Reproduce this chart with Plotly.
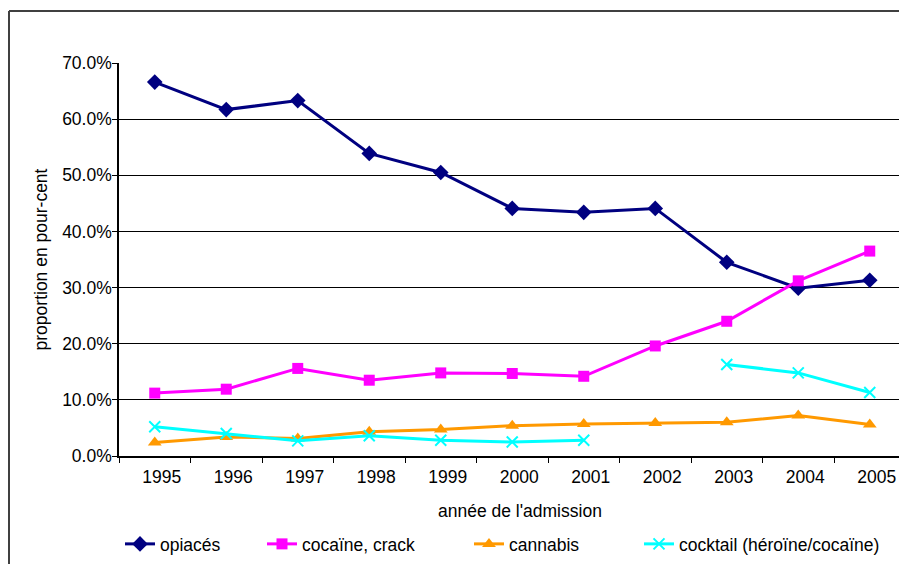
import plotly.graph_objects as go

years = ["1995", "1996", "1997", "1998", "1999", "2000", "2001", "2002", "2003", "2004", "2005"]
opiaces = [0.666, 0.617, 0.633, 0.539, 0.505, 0.441, 0.434, 0.441, 0.345, 0.299, 0.313]
cocaine = [0.112, 0.119, 0.156, 0.135, 0.148, 0.147, 0.142, 0.196, 0.240, 0.312, 0.365]
cannabis = [0.024, 0.034, 0.031, 0.043, 0.047, 0.054, 0.057, 0.059, 0.060, 0.072, 0.056]
cocktail = [0.052, 0.040, 0.027, 0.036, 0.028, 0.025, 0.028, None, 0.163, 0.148, 0.113]
y_ticks = [0, 0.1, 0.2, 0.3, 0.4, 0.5, 0.6, 0.7]

FONT = "Liberation Sans, Arial, sans-serif"
W, H = 899, 564
L, T = 119, 63
BOTTOM = 456
R = 0
B = H - BOTTOM
PW = W - L - R
PH = BOTTOM - T
CAT_W = 71.5  # the original plot area runs past the right edge of the picture

def px_x(p):
    return (p - L) / PW

def px_y(p):
    return (BOTTOM - p) / PH

series = [
    ("opiacés", opiaces, "#000080", "diamond", 12, "legend", 126),
    ("cocaïne, crack", cocaine, "#FF00FF", "square", 11, "legend2", 268),
    ("cannabis", cannabis, "#FF9900", "triangle-up", 12, "legend3", 475),
    ("cocktail (héroïne/cocaïne)", cocktail, "#00FFFF", "x-thin-open", 11, "legend4", 645),
]

fig = go.Figure()
for name, vals, color, sym, size, leg, _ in series:
    marker = dict(symbol=sym, size=size, color=color)
    if sym == "x-thin-open":
        marker["line"] = dict(color=color, width=2)
    fig.add_trace(go.Scatter(
        x=years, y=vals, name=name, mode="lines+markers",
        line=dict(color=color, width=3), marker=marker,
        connectgaps=False, legend=leg,
    ))

layout_legends = {}
for name, vals, color, sym, size, leg, icon_x in series:
    layout_legends[leg] = dict(
        x=px_x(icon_x - 6), xanchor="left", y=px_y(544), yanchor="middle",
        orientation="h", font=dict(family=FONT, size=17.5, color="black"),
        bgcolor="rgba(0,0,0,0)", borderwidth=0, itemwidth=30,
    )

fig.update_layout(
    width=W, height=H,
    margin=dict(l=L, r=R, t=T, b=B, autoexpand=False),
    paper_bgcolor="white", plot_bgcolor="white",
    font=dict(family=FONT, size=17.5, color="black"),
    showlegend=True,
    **layout_legends,
    xaxis=dict(
        type="category", range=[-0.5, -0.5 + PW / CAT_W], tickson="boundaries",
        ticks="outside", ticklen=5, tickcolor="black", tickwidth=1,
        showline=True, linecolor="black", linewidth=1.5,
        showgrid=False, ticklabelshift=7, ticklabelstandoff=4,
        automargin=False,
        tickfont=dict(family=FONT, size=17.5, color="black"),
    ),
    yaxis=dict(
        range=[0, 0.7], tickvals=y_ticks, tickformat=".1%",
        ticks="outside", ticklen=5, tickcolor="black",
        showline=True, linecolor="black", linewidth=1.5,
        showgrid=True, gridcolor="black", gridwidth=1,
        zeroline=False, ticklabelstandoff=-3, automargin=False,
        tickfont=dict(family=FONT, size=17.5, color="black"),
        title=dict(text="proportion en pour-cent", standoff=10,
                   font=dict(family=FONT, size=17.5, color="black")),
    ),
    annotations=[dict(
        text="année de l'admission", xref="paper", yref="paper",
        x=px_x(520), y=px_y(511), xanchor="center", yanchor="middle",
        showarrow=False, font=dict(family=FONT, size=17.5, color="black"),
    )],
    shapes=[
        dict(type="line", xref="paper", yref="paper",
             x0=px_x(9), x1=px_x(9), y0=px_y(11), y1=px_y(580),
             line=dict(color="#404040", width=2), layer="below"),
        dict(type="line", xref="paper", yref="paper",
             x0=px_x(9), x1=px_x(920), y0=px_y(11), y1=px_y(11),
             line=dict(color="#404040", width=2), layer="below"),
    ],
)

fig.write_html(
    "out.html",
    config={"displayModeBar": False},
    post_script="document.body.style.margin='0';document.body.style.overflow='hidden';",
)
